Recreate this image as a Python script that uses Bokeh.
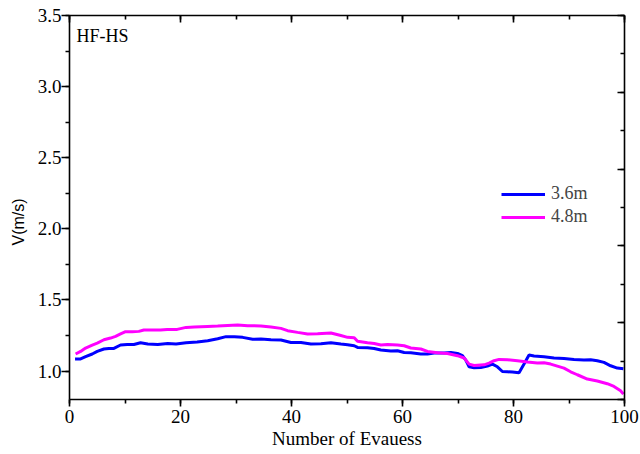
from bokeh.plotting import figure
from bokeh.models import (Range1d, LinearAxis, SingleIntervalTicker, NumeralTickFormatter,
                          CustomJSTickFormatter, Legend, Label, Title)
from bokeh.embed import file_html
from bokeh.resources import INLINE

# evacuee index and walking speed (m/s) for the two corridor widths
x_36 = [1, 2, 2.9, 4.1, 5, 6.2, 7.1, 8, 9.2, 10.4, 11.6, 12.8, 14.1, 15.9, 17.7, 19.2, 21, 23,
        24.9, 26.7, 28.2, 29.7, 31.2, 33, 34.5, 36.3, 38.1, 39.9, 41.7, 43.5, 45.3, 47.1, 48.9,
        50.1, 51.3, 51.9, 53.7, 54.9, 56.1, 57.9, 59.1, 60.3, 61.5, 63.3, 64.5, 65.7, 67.5, 68.7,
        69.9, 70.8, 71.4, 72.0, 72.9, 74.1, 75.3, 76.2, 77.1, 78.0, 78.9, 79.8, 81.0, 81.9, 82.8,
        83.7, 85.5, 87.3, 89.1, 90.9, 92.7, 93.9, 95.1, 96.3, 97.5, 98.7, 99.8]
v_36 = [1.085, 1.085, 1.101, 1.120, 1.138, 1.155, 1.159, 1.159, 1.183, 1.187, 1.187, 1.199, 1.190,
        1.187, 1.194, 1.190, 1.199, 1.204, 1.213, 1.227, 1.242, 1.242, 1.237, 1.223, 1.225, 1.220,
        1.218, 1.201, 1.201, 1.190, 1.192, 1.199, 1.190, 1.185, 1.178, 1.166, 1.164, 1.159, 1.148,
        1.141, 1.143, 1.131, 1.129, 1.120, 1.120, 1.127, 1.127, 1.131, 1.124, 1.108, 1.077, 1.030,
        1.023, 1.025, 1.035, 1.049, 1.030, 0.997, 0.995, 0.993, 0.988, 1.049, 1.113, 1.106, 1.101,
        1.092, 1.089, 1.082, 1.077, 1.080, 1.073, 1.061, 1.037, 1.021, 1.016]

x_48 = [1.1, 2.0, 2.9, 4.1, 5.0, 6.2, 7.4, 8.3, 9.2, 10.1, 11.3, 12.5, 13.4, 15.2, 16.4, 17.6, 19.4,
        21, 22.5, 24.9, 26.7, 28.5, 30.3, 32.1, 34.5, 36.3, 38.1, 39.3, 41.1, 42.9, 44.7, 47.1, 48.9,
        50.1, 51.3, 51.9, 53.7, 54.9, 56.1, 57.3, 59.1, 60.3, 61.5, 63.3, 64.5, 66.3, 68.1, 69.9,
        71.1, 72.0, 72.9, 74.7, 75.6, 76.5, 77.4, 78.9, 80.7, 82.5, 84.3, 85.5, 86.7, 87.9, 89.1,
        90.3, 91.5, 93.3, 95.1, 96.9, 98.1, 99.3, 99.8]
v_48 = [1.120, 1.138, 1.162, 1.183, 1.197, 1.220, 1.232, 1.244, 1.261, 1.277, 1.277, 1.279, 1.289,
        1.289, 1.289, 1.293, 1.293, 1.307, 1.310, 1.314, 1.317, 1.321, 1.324, 1.319, 1.317, 1.310,
        1.300, 1.284, 1.272, 1.261, 1.263, 1.268, 1.250, 1.237, 1.235, 1.209, 1.199, 1.194, 1.183,
        1.187, 1.183, 1.178, 1.162, 1.155, 1.138, 1.129, 1.124, 1.108, 1.092, 1.049, 1.039, 1.044,
        1.056, 1.073, 1.082, 1.080, 1.073, 1.063, 1.056, 1.058, 1.049, 1.035, 1.021, 0.995, 0.974,
        0.944, 0.930, 0.911, 0.892, 0.861, 0.838]

series_names = ["3.6m", "4.8m"]
series_colors = ["#0000ff", "#ff00ff"]
panel_tag = "HF-HS"
x_title = "Number of Evauess"
y_title = "V(m/s)"

SERIF = "Liberation Serif"
SANS = "Liberation Sans"

p = figure(width=640, height=454, output_backend="svg", toolbar_location=None,
           x_range=Range1d(0, 100), y_range=Range1d(0.8, 3.5),
           x_axis_type=None, y_axis_type=None,
           min_border_left=69, min_border_right=16, min_border_top=15, min_border_bottom=55)
p.outline_line_color = None
p.background_fill_color = "white"
p.border_fill_color = "white"
p.xgrid.visible = False
p.ygrid.visible = False
p.extra_y_ranges = {"mirror": Range1d(0, 10)}

blank = CustomJSTickFormatter(code="return ''")

common = dict(axis_line_width=1.6, axis_line_color="black",
              major_tick_line_width=1.6, minor_tick_line_width=1.6,
              major_tick_line_color="black", minor_tick_line_color="black",
              major_label_text_color="black",
              major_label_text_font=SERIF, major_label_text_font_size="19px",
              axis_label_text_font=SERIF, axis_label_text_font_size="19px",
              axis_label_text_font_style="normal", axis_label_text_color="black")

# bottom and left axes carry labels; ticks point outwards
xb = LinearAxis(ticker=SingleIntervalTicker(interval=20, num_minor_ticks=2),
                axis_label=x_title, major_tick_in=0, major_tick_out=7,
                minor_tick_in=0, minor_tick_out=4, major_label_standoff=3,
                axis_label_standoff=2, **common)
p.add_layout(xb, "below")

yl = LinearAxis(ticker=SingleIntervalTicker(interval=0.5, num_minor_ticks=2),
                formatter=NumeralTickFormatter(format="0.0"),
                major_tick_in=0, major_tick_out=8, minor_tick_in=0, minor_tick_out=4,
                major_label_standoff=0, **common)
p.add_layout(yl, "left")

# vertical quantity title on the left, placed a little below the frame centre
p.add_layout(Title(text=y_title, align="left", offset=154, standoff=15,
                   text_font=SANS, text_font_size="16px", text_font_style="normal",
                   text_color="black"), "left")

# mirrored top and right frame axes with inward ticks, no labels
xt = LinearAxis(ticker=SingleIntervalTicker(interval=20, num_minor_ticks=2), formatter=blank,
                major_tick_in=7, major_tick_out=0, minor_tick_in=4, minor_tick_out=0,
                major_label_standoff=0, **common)
xt.major_label_text_font_size = "0px"
p.add_layout(xt, "above")

yr = LinearAxis(y_range_name="mirror",
                ticker=SingleIntervalTicker(interval=2, num_minor_ticks=2), formatter=blank,
                major_tick_in=7, major_tick_out=0, minor_tick_in=4, minor_tick_out=0,
                major_label_standoff=0, **common)
yr.major_label_text_font_size = "0px"
p.add_layout(yr, "right")

r1 = p.line(x_36, v_36, line_color=series_colors[0], line_width=3)
r2 = p.line(x_48, v_48, line_color=series_colors[1], line_width=3)

legend = Legend(items=[(series_names[0], [r1]), (series_names[1], [r2])],
                location=(432, 172), glyph_width=44, glyph_height=20,
                label_text_font=SERIF, label_text_font_size="18px",
                label_standoff=6, spacing=2, padding=0, margin=0,
                border_line_color=None, background_fill_alpha=0)
p.add_layout(legend)

p.add_layout(Label(x=7, y=364, x_units="screen", y_units="screen", text=panel_tag,
                   text_font=SERIF, text_font_size="18px", text_baseline="alphabetic",
                   text_color="black"))

open("out.html", "w").write(file_html(p, INLINE))
